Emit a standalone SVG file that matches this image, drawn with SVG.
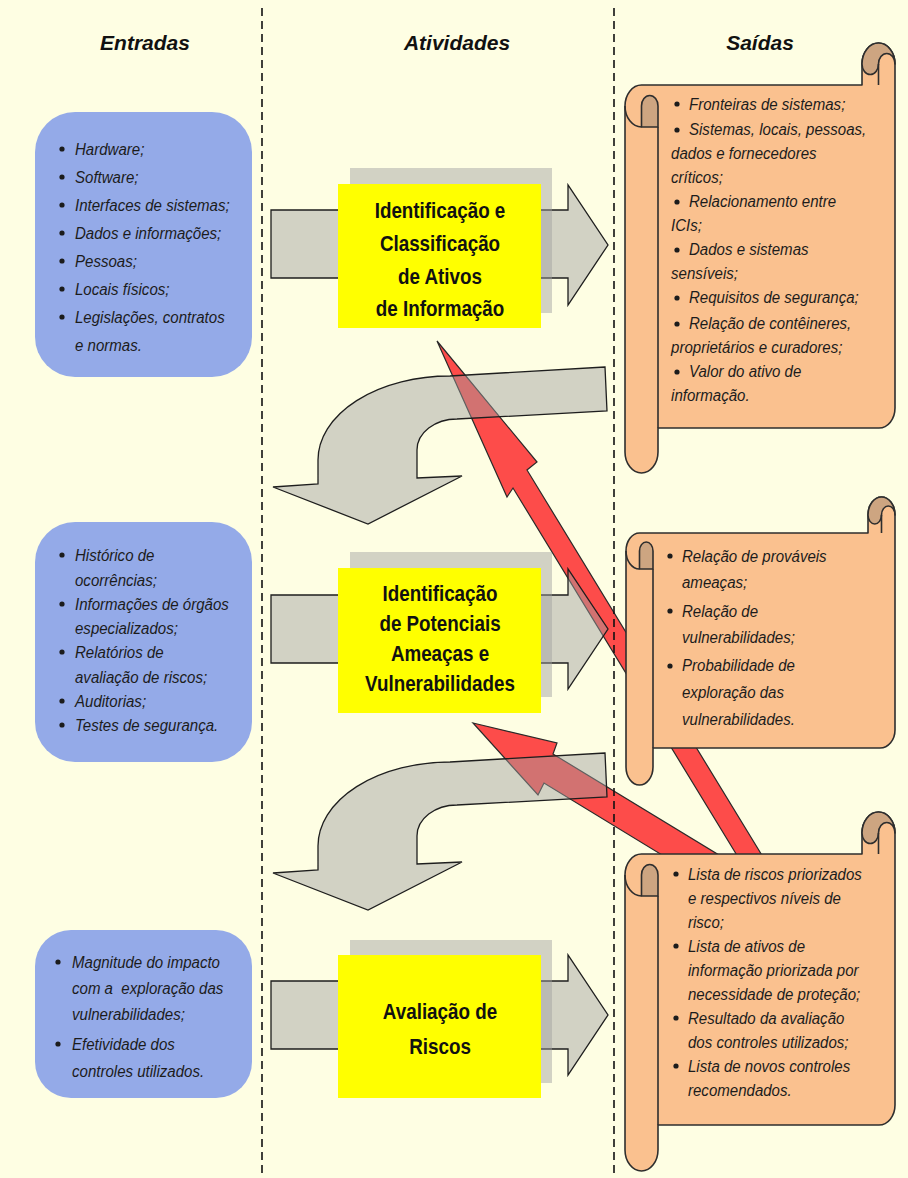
<svg xmlns="http://www.w3.org/2000/svg" width="908" height="1178" viewBox="0 0 908 1178">
  <defs>
    <style>
      .hd { font-family: "Liberation Sans", Arial, sans-serif; font-weight: bold; font-style: italic; font-size: 21px; fill: #111; text-anchor: middle; }
      .it { font-family: "Liberation Sans", Arial, sans-serif; font-style: italic; font-size: 17px; fill: #1c1c1c; }
      .ti { font-family: "Liberation Sans", Arial, sans-serif; font-weight: bold; font-size: 21.5px; fill: #111; text-anchor: middle; }
      .inp { fill: #94aae8; }
      .act { fill: #ffff00; }
      .shd { fill: #a0a0a0; fill-opacity: 0.46; }
      .gar { fill: #a0a0a0; fill-opacity: 0.46; stroke: #1e1e1e; stroke-width: 1.3; stroke-linejoin: miter; }
      .red { fill: #fd4c4a; stroke: #2a2a2a; stroke-width: 1.2; stroke-linejoin: miter; }
      .scr { fill: #fac18f; stroke: #2e2e2e; stroke-width: 1.6; stroke-linejoin: round; }
      .ear { fill: #cda581; stroke: #2e2e2e; stroke-width: 1.6; stroke-linejoin: round; }
      .ln { fill: none; stroke: #2e2e2e; stroke-width: 1.6; }
      .dash { stroke: #111; stroke-width: 1.6; stroke-dasharray: 8 5; }
      .dot { fill: #1c1c1c; }
    </style>
  </defs>

  <!-- page -->
  <rect x="0" y="0" width="908" height="1178" fill="#fefee3"/>

  <!-- column headers -->
  <g id="headers">
    <text class="hd" x="145" y="50">Entradas</text>
    <text class="hd" x="457" y="50">Atividades</text>
    <text class="hd" x="760" y="50">Saídas</text>
  </g>

  <!-- connectors: feedback arrows, flow arrows, return bends -->
  <g id="connectors">
    <path class="red" d="M437 341 L537 462 L527 470 L777 880 L752 880 L513 488 L507 497 Z"/>
    <path class="red" d="M473 723 L557 743 L553 754 L760 880 L703 880 L544 783 L538 795 Z"/>

    <path class="gar" d="M271 210 L568 210 L568 185 L608 245 L568 305 L568 278 L271 278 Z"/>
    <path class="gar" d="M271 595 L568 595 L568 569 L608 629 L568 689 L568 663 L271 663 Z"/>
    <path class="gar" d="M271 981 L568 981 L568 955 L608 1015 L568 1075 L568 1049 L271 1049 Z"/>

    <path id="bend1" class="gar" d="M605 367 L450 376 A132 84 0 0 0 318 460 L318 484 L273 487 L368 524 L462 476 L417 478 L417 450 A40 31 0 0 1 457 419 L607 411 Z"/>
    <path id="bend2" class="gar" transform="translate(0,386)" d="M605 367 L450 376 A132 84 0 0 0 318 460 L318 484 L273 487 L368 524 L462 476 L417 478 L417 450 A40 31 0 0 1 457 419 L607 411 Z"/>
  </g>

  <!-- column separators -->
  <g id="separators">
    <line class="dash" x1="262" y1="8" x2="262" y2="1178"/>
    <line class="dash" x1="614" y1="8" x2="614" y2="1178"/>
  </g>

  <!-- inputs -->
  <g id="input-assets">
    <rect class="inp" x="35" y="112" width="217" height="265" rx="40" ry="40"/>
    <circle class="dot" cx="62" cy="149" r="2.6"/>
    <circle class="dot" cx="62" cy="177" r="2.6"/>
    <circle class="dot" cx="62" cy="205" r="2.6"/>
    <circle class="dot" cx="62" cy="233" r="2.6"/>
    <circle class="dot" cx="62" cy="261" r="2.6"/>
    <circle class="dot" cx="62" cy="289" r="2.6"/>
    <circle class="dot" cx="62" cy="317" r="2.6"/>
    <g transform="translate(75,0) scale(0.885,1)">
      <text class="it" x="0" y="155">Hardware;</text>
      <text class="it" x="0" y="183">Software;</text>
      <text class="it" x="0" y="211">Interfaces de sistemas;</text>
      <text class="it" x="0" y="239">Dados e informações;</text>
      <text class="it" x="0" y="267">Pessoas;</text>
      <text class="it" x="0" y="295">Locais físicos;</text>
      <text class="it" x="0" y="323">Legislações, contratos</text>
      <text class="it" x="0" y="351">e normas.</text>
    </g>
  </g>

  <g id="input-threats">
    <rect class="inp" x="35" y="522" width="217" height="240" rx="40" ry="40"/>
    <circle class="dot" cx="62" cy="555" r="2.6"/>
    <circle class="dot" cx="62" cy="604" r="2.6"/>
    <circle class="dot" cx="62" cy="652" r="2.6"/>
    <circle class="dot" cx="62" cy="701" r="2.6"/>
    <circle class="dot" cx="62" cy="725" r="2.6"/>
    <g transform="translate(75,0) scale(0.885,1)">
      <text class="it" x="0" y="561">Histórico de</text>
      <text class="it" x="0" y="586">ocorrências;</text>
      <text class="it" x="0" y="610">Informações de órgãos</text>
      <text class="it" x="0" y="634">especializados;</text>
      <text class="it" x="0" y="658">Relatórios de</text>
      <text class="it" x="0" y="683">avaliação de riscos;</text>
      <text class="it" x="0" y="707">Auditorias;</text>
      <text class="it" x="0" y="731">Testes de segurança.</text>
    </g>
  </g>

  <g id="input-risk">
    <rect class="inp" x="35" y="930" width="217" height="168" rx="36" ry="36"/>
    <circle class="dot" cx="58" cy="962" r="2.6"/>
    <circle class="dot" cx="58" cy="1044" r="2.6"/>
    <g transform="translate(72,0) scale(0.885,1)">
      <text class="it" x="0" y="968">Magnitude do impacto</text>
      <text class="it" x="0" y="994">com a&#160; exploração das</text>
      <text class="it" x="0" y="1020">vulnerabilidades;</text>
      <text class="it" x="0" y="1050">Efetividade dos</text>
      <text class="it" x="0" y="1077">controles utilizados.</text>
    </g>
  </g>

  <!-- activities -->
  <g id="activity-assets">
    <rect class="shd" x="350" y="168" width="202" height="145"/>
    <rect class="act" x="338" y="184" width="203" height="144"/>
    <text class="ti" transform="translate(440,218) scale(0.875,1)">Identificação e</text>
    <text class="ti" transform="translate(440,251) scale(0.875,1)">Classificação</text>
    <text class="ti" transform="translate(440,284) scale(0.875,1)">de Ativos</text>
    <text class="ti" transform="translate(440,316) scale(0.875,1)">de Informação</text>
  </g>

  <g id="activity-threats">
    <rect class="shd" x="350" y="552" width="202" height="145"/>
    <rect class="act" x="338" y="568" width="203" height="145"/>
    <text class="ti" transform="translate(440,601) scale(0.875,1)">Identificação</text>
    <text class="ti" transform="translate(440,631) scale(0.875,1)">de Potenciais</text>
    <text class="ti" transform="translate(440,661) scale(0.875,1)">Ameaças e</text>
    <text class="ti" transform="translate(440,691) scale(0.875,1)">Vulnerabilidades</text>
  </g>

  <g id="activity-risk">
    <rect class="shd" x="350" y="940" width="202" height="143"/>
    <rect class="act" x="338" y="955" width="203" height="143"/>
    <text class="ti" transform="translate(440,1019) scale(0.875,1)">Avaliação de</text>
    <text class="ti" transform="translate(440,1054) scale(0.875,1)">Riscos</text>
  </g>

  <!-- outputs (scrolls) -->
  <g id="output-assets">
    <path class="scr" d="M641.5 85 L862 85 L862 64 A16.5 21 0 0 1 895 64 L895 408 A16 20 0 0 1 879 428 L658 428 L658 452 A16.5 21 0 0 1 625 452 L625 106 A16.5 21 0 0 1 641.5 85 Z"/>
    <path class="ear" d="M862 64 A16.5 21 0 0 1 895 64 A8.25 10.5 0 0 0 878.5 64 A8.25 10.5 0 0 1 862 64 Z"/>
    <path class="ln" d="M878.5 64 L878.5 85"/>
    <path class="ear" d="M641.5 106 A8.25 10.5 0 0 1 658 106 L658 127 L641.5 127 Z"/>
    <path class="ln" d="M625 106 A16.5 21 0 0 0 641.5 127 M658 127 L658 428"/>
    <circle class="dot" cx="677" cy="104" r="2.6"/>
    <circle class="dot" cx="677" cy="130" r="2.6"/>
    <circle class="dot" cx="677" cy="202" r="2.6"/>
    <circle class="dot" cx="677" cy="250" r="2.6"/>
    <circle class="dot" cx="677" cy="298" r="2.6"/>
    <circle class="dot" cx="677" cy="324" r="2.6"/>
    <circle class="dot" cx="677" cy="372" r="2.6"/>
    <g transform="translate(689,0) scale(0.885,1)">
      <text class="it" x="0" y="110">Fronteiras de sistemas;</text>
      <text class="it" x="0" y="135">Sistemas, locais, pessoas,</text>
      <text class="it" x="-20.3" y="159">dados e fornecedores</text>
      <text class="it" x="-20.3" y="183">críticos;</text>
      <text class="it" x="0" y="207">Relacionamento entre</text>
      <text class="it" x="-20.3" y="231">ICIs;</text>
      <text class="it" x="0" y="255">Dados e sistemas</text>
      <text class="it" x="-20.3" y="279">sensíveis;</text>
      <text class="it" x="0" y="303">Requisitos de segurança;</text>
      <text class="it" x="0" y="329">Relação de contêineres,</text>
      <text class="it" x="-20.3" y="353">proprietários e curadores;</text>
      <text class="it" x="0" y="377">Valor do ativo de</text>
      <text class="it" x="-20.3" y="401">informação.</text>
    </g>
  </g>

  <g id="output-threats">
    <path class="scr" d="M639.5 533 L868 533 L868 515 A13.5 18 0 0 1 895 515 L895 730 A15 18 0 0 1 880 748 L653 748 L653 767 A13.5 18 0 0 1 626 767 L626 551 A13.5 18 0 0 1 639.5 533 Z"/>
    <path class="ear" d="M868 515 A13.5 18 0 0 1 895 515 A6.75 9 0 0 0 881.5 515 A6.75 9 0 0 1 868 515 Z"/>
    <path class="ln" d="M881.5 515 L881.5 533"/>
    <path class="ear" d="M639.5 551 A6.75 9 0 0 1 653 551 L653 569 L639.5 569 Z"/>
    <path class="ln" d="M626 551 A13.5 18 0 0 0 639.5 569 M653 569 L653 748"/>
    <circle class="dot" cx="670" cy="556" r="2.6"/>
    <circle class="dot" cx="670" cy="611" r="2.6"/>
    <circle class="dot" cx="670" cy="666" r="2.6"/>
    <g transform="translate(682,0) scale(0.885,1)">
      <text class="it" x="0" y="562">Relação de prováveis</text>
      <text class="it" x="0" y="588">ameaças;</text>
      <text class="it" x="0" y="617">Relação de</text>
      <text class="it" x="0" y="643">vulnerabilidades;</text>
      <text class="it" x="0" y="671">Probabilidade de</text>
      <text class="it" x="0" y="698">exploração das</text>
      <text class="it" x="0" y="725">vulnerabilidades.</text>
    </g>
  </g>

  <g id="output-risk">
    <path class="scr" d="M641.5 854 L862 854 L862 833 A16.5 21 0 0 1 895 833 L895 1105 A16 20 0 0 1 879 1125 L658 1125 L658 1150 A16.5 21 0 0 1 625 1150 L625 875 A16.5 21 0 0 1 641.5 854 Z"/>
    <path class="ear" d="M862 833 A16.5 21 0 0 1 895 833 A8.25 10.5 0 0 0 878.5 833 A8.25 10.5 0 0 1 862 833 Z"/>
    <path class="ln" d="M878.5 833 L878.5 854"/>
    <path class="ear" d="M641.5 875 A8.25 10.5 0 0 1 658 875 L658 896 L641.5 896 Z"/>
    <path class="ln" d="M625 875 A16.5 21 0 0 0 641.5 896 M658 896 L658 1125"/>
    <circle class="dot" cx="676" cy="874" r="2.6"/>
    <circle class="dot" cx="676" cy="946" r="2.6"/>
    <circle class="dot" cx="676" cy="1018" r="2.6"/>
    <circle class="dot" cx="676" cy="1066" r="2.6"/>
    <g transform="translate(688,0) scale(0.885,1)">
      <text class="it" x="0" y="880">Lista de riscos priorizados</text>
      <text class="it" x="0" y="904">e respectivos níveis de</text>
      <text class="it" x="0" y="928">risco;</text>
      <text class="it" x="0" y="952">Lista de ativos de</text>
      <text class="it" x="0" y="976">informação priorizada por</text>
      <text class="it" x="0" y="1000">necessidade de proteção;</text>
      <text class="it" x="0" y="1024">Resultado da avaliação</text>
      <text class="it" x="0" y="1048">dos controles utilizados;</text>
      <text class="it" x="0" y="1072">Lista de novos controles</text>
      <text class="it" x="0" y="1096">recomendados.</text>
    </g>
  </g>
</svg>
